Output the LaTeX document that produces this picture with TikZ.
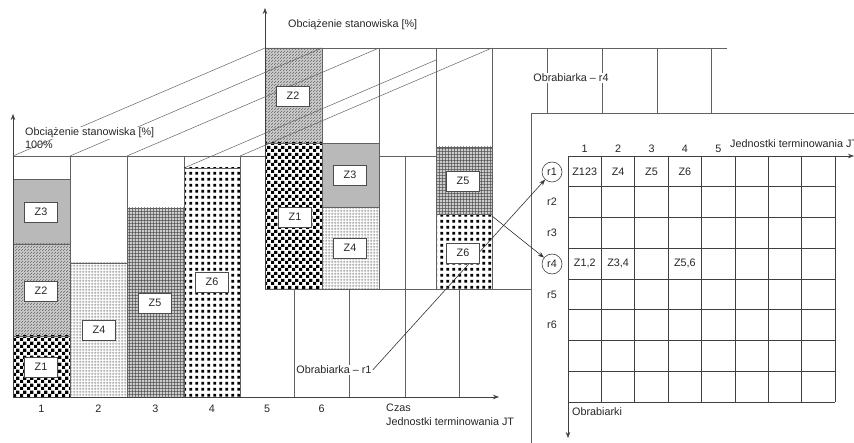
\documentclass[tikz,border=0pt]{standalone}
\usepackage{fontspec}
\setmainfont{Liberation Sans}
\usetikzlibrary{patterns,arrows.meta}

\pgfdeclarepatternformonly{zcheck}{\pgfqpoint{0pt}{0pt}}{\pgfqpoint{6.6pt}{6.6pt}}{\pgfqpoint{6.6pt}{6.6pt}}{%
 \pgfpathrectangle{\pgfqpoint{0pt}{0pt}}{\pgfqpoint{3.3pt}{3.3pt}}%
 \pgfpathrectangle{\pgfqpoint{3.3pt}{3.3pt}}{\pgfqpoint{3.3pt}{3.3pt}}%
 \pgfusepath{fill}}
\pgfdeclarepatternformonly{zdots}{\pgfqpoint{0pt}{0pt}}{\pgfqpoint{5.7pt}{5.7pt}}{\pgfqpoint{5.7pt}{5.7pt}}{%
 \pgfpathrectangle{\pgfqpoint{1.4pt}{1.4pt}}{\pgfqpoint{2.9pt}{2.9pt}}\pgfusepath{fill}}
\pgfdeclarepatternformonly{zhatch}{\pgfqpoint{0pt}{0pt}}{\pgfqpoint{2.5pt}{2.5pt}}{\pgfqpoint{2.5pt}{2.5pt}}{%
 \pgfsetlinewidth{0.5pt}\pgfpathmoveto{\pgfqpoint{-0.2pt}{-0.2pt}}\pgfpathlineto{\pgfqpoint{2.7pt}{2.7pt}}\pgfusepath{stroke}}
\pgfdeclarepatternformonly{zfgrid}{\pgfqpoint{0pt}{0pt}}{\pgfqpoint{2.6pt}{2.6pt}}{\pgfqpoint{2.6pt}{2.6pt}}{%
 \pgfsetlinewidth{0.4pt}\pgfpathmoveto{\pgfqpoint{0pt}{1.3pt}}\pgfpathlineto{\pgfqpoint{2.6pt}{1.3pt}}%
 \pgfpathmoveto{\pgfqpoint{1.3pt}{0pt}}\pgfpathlineto{\pgfqpoint{1.3pt}{2.6pt}}\pgfusepath{stroke}}
\pgfdeclarepatternformonly{zgrid}{\pgfqpoint{0pt}{0pt}}{\pgfqpoint{3.4pt}{3.4pt}}{\pgfqpoint{3.4pt}{3.4pt}}{%
 \pgfsetlinewidth{0.6pt}\pgfpathmoveto{\pgfqpoint{0pt}{1.7pt}}\pgfpathlineto{\pgfqpoint{3.4pt}{1.7pt}}%
 \pgfpathmoveto{\pgfqpoint{1.7pt}{0pt}}\pgfpathlineto{\pgfqpoint{1.7pt}{3.4pt}}\pgfusepath{stroke}}

\newcommand\zrect[4]{\fill[#1] #3 rectangle #4; \fill[#2] #3 rectangle #4; \draw[ln] #3 rectangle #4;}

\begin{document}
\begin{tikzpicture}[x=1pt,y=-1pt,
  ln/.style={draw=black!62,line width=0.65pt},
  axis/.style={draw=black!75,line width=0.7pt,-{Stealth[length=6pt,width=4.5pt]}},
  conn/.style={draw=black!80,line width=0.6pt,-{Stealth[length=6pt,width=4.5pt]}},
  txt/.style={font=\fontsize{10.8}{12}\selectfont,text=black!85,inner sep=1pt},
  zbox/.style={txt,draw=black!70,fill=white,line width=0.7pt,minimum width=33pt,minimum height=20pt,inner sep=0pt},
  rc/.style={txt,draw=black!75,circle,minimum size=20pt,inner sep=0pt,line width=0.6pt},
  z1f/.style={pattern=zcheck,pattern color=black},
  z2f/.style={pattern=zhatch,pattern color=black!60},
  z4f/.style={pattern=zfgrid,pattern color=black!45},
  z5f/.style={pattern=zgrid,pattern color=black!70},
  z6f/.style={pattern=zdots,pattern color=black}]
\useasboundingbox (0,0) rectangle (854,443);
\clip (0,0) rectangle (854,443);

% ---------- front chart (Obrabiarka r1) ----------
\foreach \x in {70,127,184,240,294,349,405,459} \draw[ln] (\x,156) -- (\x,397);
\draw[ln] (13,156) -- (475,156);
\zrect{gray!55}{gray!55}{(13,179)}{(70,244)}
\zrect{gray!40}{z2f}{(13,244)}{(70,336)}
\zrect{white}{z1f}{(13,336)}{(70,397)}
\zrect{white}{z4f}{(70,263)}{(127,397)}
\zrect{gray!40}{z5f}{(127,208)}{(184,397)}
\zrect{white}{z6f}{(184,168)}{(240,397)}
\draw[axis] (13,397) -- (499,397);
\draw[axis] (13,397) -- (13,114);

% ---------- back chart (Obrabiarka r4) ----------
\zrect{gray!40}{z2f}{(265,48)}{(322,143)}
\zrect{white}{z1f}{(265,143)}{(322,289)}
\zrect{gray!55}{gray!55}{(322,143)}{(379,207)}
\zrect{white}{z4f}{(322,207)}{(379,289)}
\zrect{gray!40}{z5f}{(436,147)}{(492,214)}
\zrect{white}{z6f}{(436,214)}{(492,289)}
\foreach \x in {322,379,436,492,547,602,657,711} \draw[ln] (\x,48) -- (\x,289);
\draw[ln] (265,48) -- (727,48);
\draw[ln] (265,289) -- (760,289);
\draw[axis] (265,289) -- (265,8);

% ---------- perspective lines ----------
\foreach \x/\y in {13/156,70/156,127/156,184/168,240/156}
  \draw[ln,line width=0.5pt] (\x,\y) -- ++(252,-108);

% ---------- table panel ----------
\fill[white] (531,113) rectangle (870,460);
\draw[ln] (870,113) -- (531,113) -- (531,460);
\foreach \i in {0,...,8} \draw[ln,draw=black!75] ({568+\i*33.4},156) -- ({568+\i*33.4},402);
\foreach \j in {1,...,8} \draw[ln,draw=black!75] (568,{156+\j*30.75}) -- (835,{156+\j*30.75});
\draw[axis] (568,156) -- (854,156);
\draw[axis] (568,156) -- (568,438);
\foreach \c in {1,...,5} \node[txt] (col\c) at ({551.3+\c*33.4},149) {\c};
\node[txt,anchor=west] (jt2) at (729,144) {Jednostki terminowania JT};
\node[txt,anchor=west] (obr) at (571,412) {Obrabiarki};
\node[rc] (r1) at (552,172) {r1};
\node[txt] (r2) at (552,202) {r2};
\node[txt] (r3) at (552,233) {r3};
\node[rc] (r4) at (552,264) {r4};
\node[txt] (r5) at (552,295) {r5};
\node[txt] (r6) at (552,325) {r6};
\node[txt] (c11) at (584.7,171.5) {Z123};
\node[txt] (c12) at (618.1,171.5) {Z4};
\node[txt] (c13) at (651.5,171.5) {Z5};
\node[txt] (c14) at (684.9,171.5) {Z6};
\node[txt] (c41) at (584.7,263.5) {Z1,2};
\node[txt] (c42) at (618.1,263.5) {Z3,4};
\node[txt] (c44) at (684.9,263.5) {Z5,6};

% ---------- connectors ----------
\node[txt,fill=white] (lr1) at (334,370) {Obrabiarka – r1};
\coordinate (z6corner) at (492,216);
\draw[conn] (lr1.east) -- (r1);
\draw[conn] (z6corner) -- (r4);

% ---------- Z boxes ----------
\node[zbox] (fz3) at (41,212) {Z3};
\node[zbox] (fz2) at (41,291) {Z2};
\node[zbox] (fz1) at (41,367) {Z1};
\node[zbox] (fz4) at (99,330) {Z4};
\node[zbox] (fz5) at (155,303) {Z5};
\node[zbox] (fz6) at (212,282) {Z6};
\node[zbox] (bz2) at (293,96) {Z2};
\node[zbox] (bz1) at (295,217) {Z1};
\node[zbox] (bz3) at (350,175) {Z3};
\node[zbox] (bz4) at (350,248) {Z4};
\node[zbox] (bz5) at (463,181) {Z5};
\node[zbox] (bz6) at (463,253) {Z6};

% ---------- labels ----------
\node[txt,anchor=west,fill=white] (fy) at (24,133) {Obciążenie stanowiska [\%]};
\node[txt,anchor=west] (f100) at (24,145) {100\%};
\node[txt,anchor=west] (by) at (287,25) {Obciążenie stanowiska [\%]};
\node[txt,fill=white] (lr4) at (571,78) {Obrabiarka – r4};
\foreach \n/\x in {1/41.5,2/98.5,3/155.5,4/212,5/267,6/321.5} \node[txt] (t\n) at (\x,409) {\n};
\node[txt,anchor=west] (czas) at (385,408) {Czas};
\node[txt,anchor=west] (jt1) at (385,422) {Jednostki terminowania JT};
\end{tikzpicture}
\end{document}
